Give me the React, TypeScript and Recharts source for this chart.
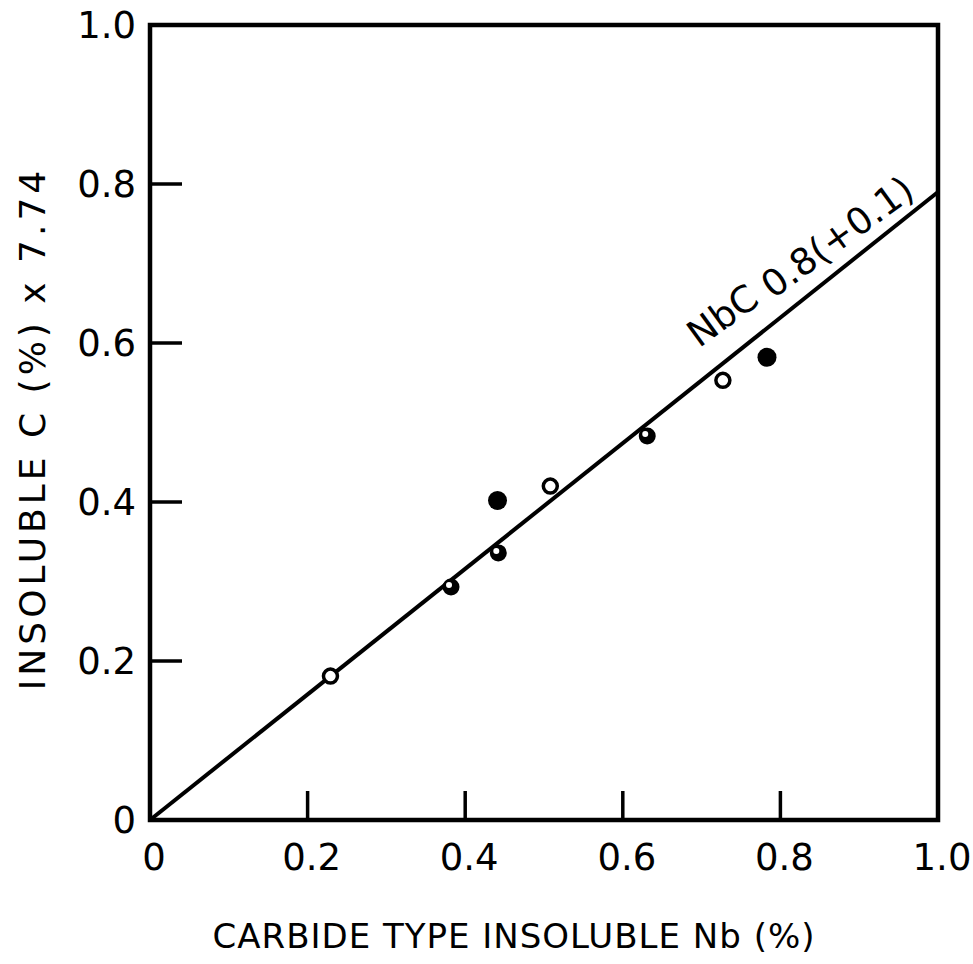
import React from 'react';
import {
  ScatterChart,
  Scatter,
  XAxis,
  YAxis,
  ReferenceLine,
  ReferenceArea,
  ReferenceDot,
  Label,
} from 'recharts';

// axis ticks
const xTicks = [0, 0.2, 0.4, 0.6, 0.8, 1.0];
const yTicks = [0, 0.2, 0.4, 0.6, 0.8, 1.0];
const tickNames = ['0', '0.2', '0.4', '0.6', '0.8', '1.0'];

// measured points, grouped by marker style
const openNb = [0.229, 0.508, 0.727];
const openC = [0.181, 0.42, 0.553];
const solidNb = [0.441, 0.783];
const solidC = [0.402, 0.582];
const halfNb = [0.382, 0.442, 0.631];
const halfC = [0.293, 0.336, 0.483];

// NbC0.8 stoichiometry line through the origin
const fitSlope = 0.79;

const toPoints = (xs: number[], ys: number[]) => xs.map((x, i) => ({ x, y: ys[i] }));

const FONT = '"DejaVu Sans", sans-serif';
const INK = '#000';

const XTick = (props: any) => {
  const { x, y, payload } = props;
  const v = payload.value;
  const inner = v > 0 && v < 1;
  return (
    <g>
      {inner && <line x1={x} y1={y} x2={x} y2={y - 29} stroke={INK} strokeWidth={3.5} />}
      <text x={x + 4} y={y + 50} textAnchor="middle" fontSize={37} fontFamily={FONT} fill={INK}>
        {tickNames[xTicks.indexOf(v)]}
      </text>
    </g>
  );
};

const YTick = (props: any) => {
  const { x, y, payload } = props;
  const v = payload.value;
  const inner = v > 0 && v < 1;
  return (
    <g>
      {inner && <line x1={x} y1={y} x2={x + 32} y2={y} stroke={INK} strokeWidth={3.5} />}
      <text x={x - 14} y={y + 13} textAnchor="end" fontSize={37} fontFamily={FONT} fill={INK}>
        {tickNames[yTicks.indexOf(v)]}
      </text>
    </g>
  );
};

const OpenMark = (p: any) => (
  <circle cx={p.cx} cy={p.cy} r={7} fill="#fff" stroke={INK} strokeWidth={3.5} />
);

const SolidMark = (p: any) => <circle cx={p.cx} cy={p.cy} r={9.5} fill={INK} />;

const HalfMark = (p: any) => (
  <g>
    <circle cx={p.cx} cy={p.cy} r={8.5} fill={INK} />
    <circle cx={p.cx - 2} cy={p.cy - 2} r={3} fill="#fff" />
  </g>
);

const FitLabel = (p: any) => (
  <text
    x={p.cx}
    y={p.cy}
    textAnchor="end"
    fontSize={37}
    fontFamily={FONT}
    fill={INK}
    transform={`rotate(-36 ${p.cx} ${p.cy})`}
  >
    NbC <tspan dy={4}>0.8(+0.1)</tspan>
  </text>
);

export default function App() {
  return (
    <div style={{ position: 'absolute', left: 0, top: 0, background: '#fff' }}>
      <ScatterChart width={973} height={964} margin={{ top: 25, right: 35, bottom: 0, left: 0 }}>
        <XAxis
          type="number"
          dataKey="x"
          domain={[0, 1]}
          ticks={xTicks}
          height={144}
          axisLine={false}
          tickLine={false}
          tickSize={0}
          tickMargin={0}
          tick={<XTick />}
          interval={0}
        >
          <Label
            content={({ viewBox }: any) => (
              <text
                x={viewBox.x + viewBox.width / 2 - 30}
                y={viewBox.y + 128}
                textAnchor="middle"
                fontSize={34}
                fontFamily={FONT}
                letterSpacing={1}
                fill={INK}
              >
                CARBIDE TYPE INSOLUBLE Nb (%)
              </text>
            )}
          />
        </XAxis>
        <YAxis
          type="number"
          dataKey="y"
          domain={[0, 1]}
          ticks={yTicks}
          width={150}
          axisLine={false}
          tickLine={false}
          tickSize={0}
          tickMargin={0}
          tick={<YTick />}
          interval={0}
        >
          <Label
            content={({ viewBox }: any) => {
              const cx = 32;
              const cy = viewBox.y + viewBox.height / 2 + 6;
              return (
                <text
                  x={cx}
                  y={cy}
                  textAnchor="middle"
                  dominantBaseline="central"
                  fontSize={36}
                  fontFamily={FONT}
                  letterSpacing={4}
                  fill={INK}
                  transform={`rotate(-90 ${cx} ${cy})`}
                >
                  INSOLUBLE C (%) x 7.74
                </text>
              );
            }}
          />
        </YAxis>
        <ReferenceArea x1={0} x2={1} y1={0} y2={1} fill="none" stroke={INK} strokeWidth={4.5} ifOverflow="visible" />
        <ReferenceLine
          segment={[{ x: 0, y: 0 }, { x: 1, y: fitSlope }]}
          stroke={INK}
          strokeWidth={4}
          ifOverflow="visible"
        />
        <ReferenceDot x={0.97} y={0.79} r={0} shape={<FitLabel />} ifOverflow="visible" />
        <Scatter data={toPoints(openNb, openC)} shape={<OpenMark />} isAnimationActive={false} />
        <Scatter data={toPoints(solidNb, solidC)} shape={<SolidMark />} isAnimationActive={false} />
        <Scatter data={toPoints(halfNb, halfC)} shape={<HalfMark />} isAnimationActive={false} />
      </ScatterChart>
    </div>
  );
}
